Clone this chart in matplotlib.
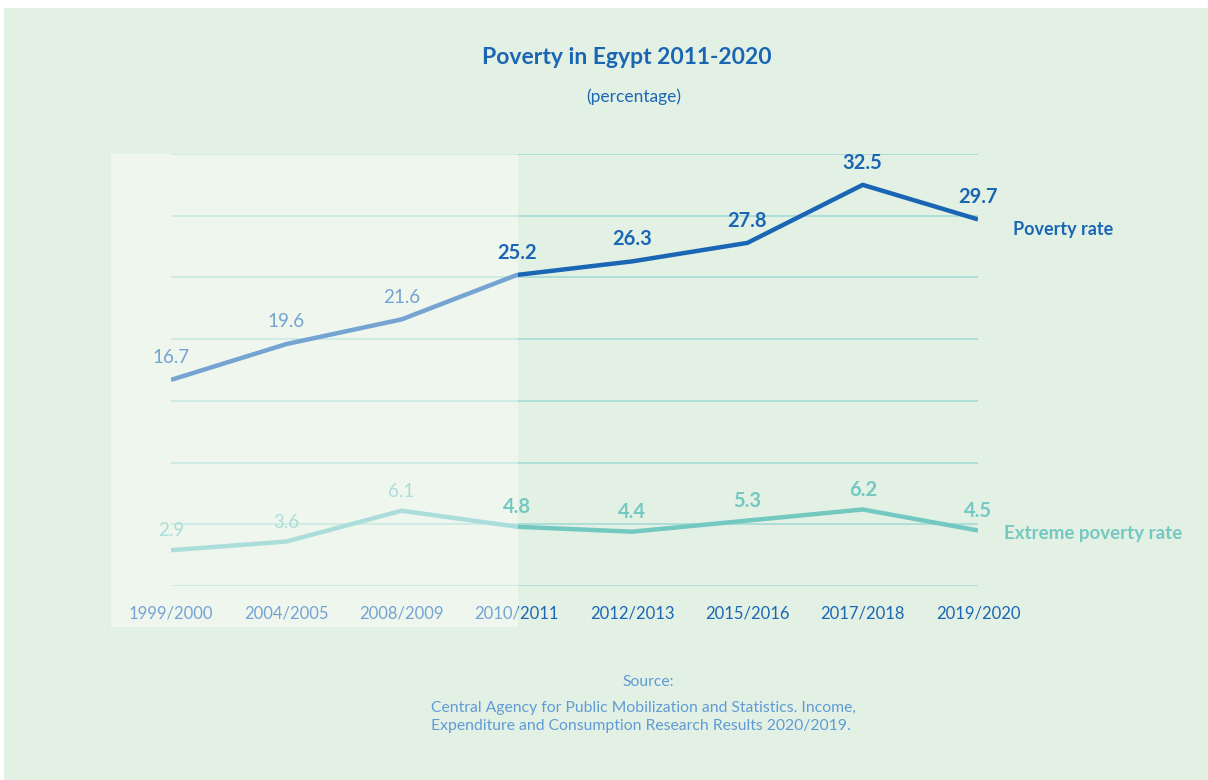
import matplotlib.pyplot as plt
from matplotlib.patches import Rectangle
from matplotlib.text import Annotation

plt.rcParams['font.family'] = ['Lato', 'DejaVu Sans']

# data
periods = ['1999/2000', '2004/2005', '2008/2009', '2010/2011',
           '2012/2013', '2015/2016', '2017/2018', '2019/2020']
poverty = [16.7, 19.6, 21.6, 25.2, 26.3, 27.8, 32.5, 29.7]
extreme = [2.9, 3.6, 6.1, 4.8, 4.4, 5.3, 6.2, 4.5]
grid_levels = [0, 5, 10, 15, 20, 25, 30, 35]
n_old = 3  # periods before 2010/2011 get the pale overlay

BLUE = '#1a66b5'
TEAL = '#74c8c2'
BG = '#e3f1e4'
W, H = 1208, 780

fig = plt.figure(figsize=(W / 100, H / 100), dpi=100, facecolor='white')
fig.patches.append(Rectangle((4 / W, 0), 1 - 4 / W, 1 - 8 / H, transform=fig.transFigure,
                             facecolor=BG, edgecolor='none', zorder=-5))

ax = fig.add_axes([171 / W, (H - 586) / H, (978 - 171) / W, (586 - 154) / H])
ax.set_facecolor('none')
for s in ax.spines.values():
    s.set_visible(False)

x = list(range(len(periods)))
for g in grid_levels:
    ax.axhline(g, color='#aadcd6', lw=1.3, zorder=1)

ax.plot(x, poverty, color=BLUE, lw=3.2, solid_capstyle='butt', zorder=3)
ax.plot(x, extreme, color=TEAL, lw=3.2, solid_capstyle='butt', zorder=3)

ax.set_xlim(0, len(periods) - 1)
ax.set_ylim(0, 35)
ax.set_yticks([])
ax.set_xticks(x)
ax.set_xticklabels(periods, fontsize=12, color=BLUE)
ax.tick_params(axis='x', length=0, pad=14)

# value labels: old years plain (under overlay), recent years bold on top
for vals, col, dy in [(poverty, BLUE, 16), (extreme, TEAL, 14)]:
    for xi, v in zip(x, vals):
        if xi < n_old:
            ax.annotate(f'{v}', (xi, v), xytext=(0, dy), textcoords='offset points',
                        ha='center', va='center', fontsize=13.5, color=col)
        else:
            a = Annotation(f'{v}', (xi, v), xycoords=ax.transData, xytext=(0, dy),
                           textcoords='offset points', ha='center', va='center',
                           fontsize=14.5, fontweight='bold', color=col)
            a.set_zorder(11)
            fig.add_artist(a)

ax.annotate('Poverty rate', (x[-1], poverty[-1]), xytext=(25, -7), textcoords='offset points',
            ha='left', va='center', fontsize=13, fontweight='bold', color=BLUE)
ax.annotate('Extreme poverty rate', (x[-1], extreme[-1]), xytext=(19, -2), textcoords='offset points',
            ha='left', va='center', fontsize=13.5, fontweight='bold', color=TEAL)

# pale overlay over the earlier years
fig.patches.append(Rectangle((111 / W, (H - 627) / H), (518 - 111) / W, (627 - 154) / H,
                             transform=fig.transFigure, facecolor='white', alpha=0.4,
                             edgecolor='none', zorder=10))

fig.text(627 / W, 1 - 57 / H, 'Poverty in Egypt 2011-2020', ha='center', va='center',
         fontsize=16.5, fontweight='bold', color=BLUE)
fig.text(634 / W, 1 - 97 / H, '(percentage)', ha='center', va='center',
         fontsize=12.5, color=BLUE)

src_col = '#5f9bd6'
fig.text(648 / W, 1 - 682 / H, 'Source:', ha='center', va='center', fontsize=11.3, color=src_col)
fig.text(431 / W, 1 - 717 / H,
         'Central Agency for Public Mobilization and Statistics. Income,\n'
         'Expenditure and Consumption Research Results 2020/2019.',
         ha='left', va='center', fontsize=11.3, color=src_col, linespacing=1.4)

plt.savefig('out.png', dpi=100)
